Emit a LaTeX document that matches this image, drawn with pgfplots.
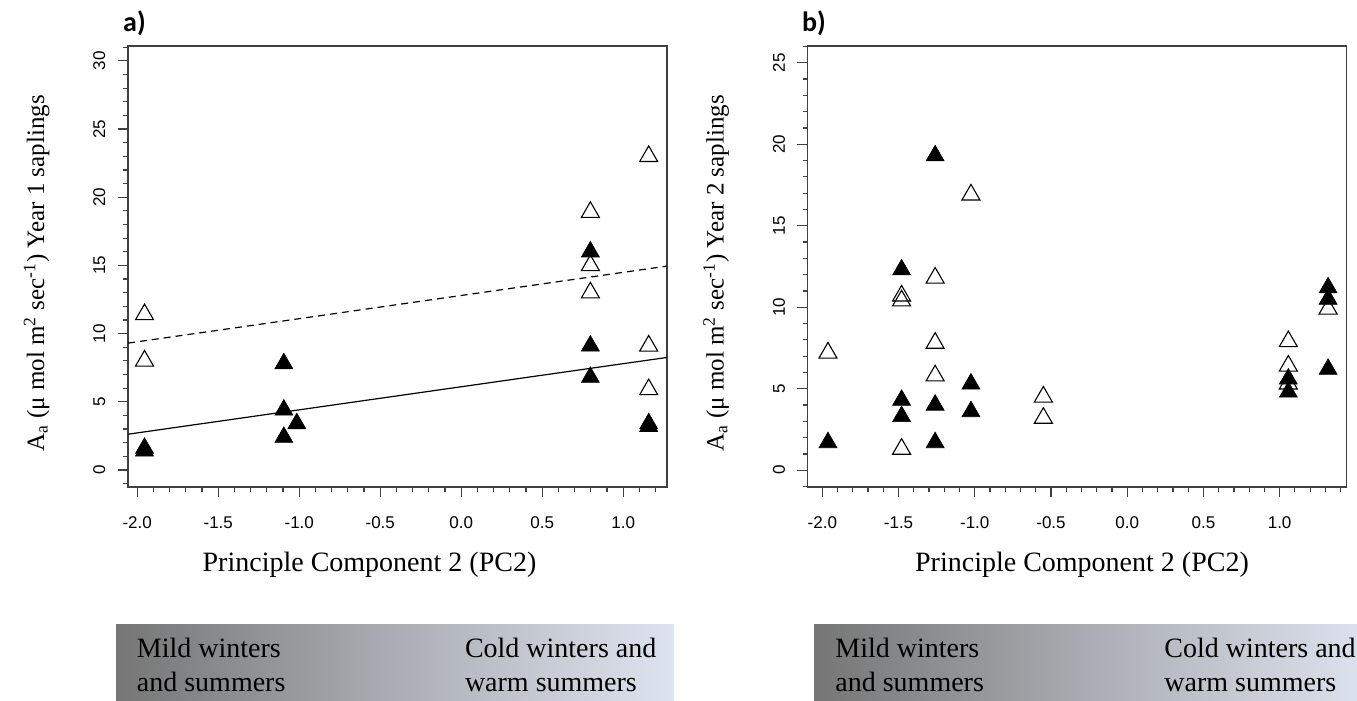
\documentclass[border=0pt]{standalone}
\usepackage{fontspec}
\setmainfont{Liberation Serif}
\newfontfamily\tickfont{Liberation Sans}
\newfontfamily\titlefont{Carlito}
\usepackage{pgfplots}
\usepackage{pgfplotstable}
\pgfplotsset{compat=1.18}

\definecolor{gA}{RGB}{118,118,118}
\definecolor{gB}{RGB}{180,180,180}
\definecolor{gC}{RGB}{222,228,240}

% Panel a
\pgfplotstableread{
x y
-1.955 11.4
-1.955 8.0
0.797 18.9
0.797 15.0
0.797 13.0
1.157 23.0
1.157 9.1
1.157 5.9
}\aopen
\pgfplotstableread{
x y
-1.955 1.6
-1.955 1.4
-1.095 7.8
-1.095 4.4
-1.095 2.4
-1.015 3.4
0.797 16.0
0.797 9.1
0.797 6.8
1.157 3.4
1.157 3.2
}\afilled
% Panel b
\pgfplotstableread{
x y
-1.963 7.2
-1.48 10.7
-1.48 10.4
-1.48 1.3
-1.26 11.8
-1.26 7.8
-1.26 5.8
-1.025 16.9
-0.55 4.5
-0.55 3.2
1.057 7.9
1.057 6.4
1.057 5.3
1.318 9.9
}\bopen
\pgfplotstableread{
x y
-1.963 1.7
-1.48 12.3
-1.48 4.3
-1.48 3.3
-1.26 19.3
-1.26 4.0
-1.26 1.7
-1.025 5.3
-1.025 3.6
1.057 5.6
1.057 4.8
1.318 11.2
1.318 10.5
1.318 6.2
}\bfilled

\pgfplotsset{
  myax/.style={
    scale only axis, width=269.5pt, height=220.5pt, anchor=south west,
    axis line style={black!75, line width=0.7pt},
    tick style={black!75, line width=0.6pt},
    tick align=outside, xtick pos=left, ytick pos=left,
    major tick length=5.2pt, minor tick length=2.6pt,
    xtick={-2,-1.5,-1,-0.5,0,0.5,1},
    xticklabels={-2.0,-1.5,-1.0,-0.5,0.0,0.5,1.0},
    ticklabel style={font=\tickfont\fontsize{8.5}{10}\selectfont},
    xticklabel style={anchor=north, inner sep=0pt},
    yticklabel style={rotate=90, anchor=south, inner sep=0pt},
    xticklabel shift=9.6pt, yticklabel shift=5.9pt,
    openm/.style={only marks, mark=triangle, mark size=5.2pt, mark options={black, line width=0.55pt}},
    fillm/.style={only marks, mark=triangle*, mark size=5.2pt, mark options={black, fill=black, line width=0.3pt}},
  }
}

\begin{document}
\begin{tikzpicture}
\useasboundingbox (0pt,0pt) rectangle (678.5pt,350.5pt);

% gradient bars
\shade[left color=gA, middle color=gB, right color=gC] (58pt,0pt) rectangle (337pt,38pt);
\shade[left color=gA, middle color=gB, right color=gC] (407pt,0pt) rectangle (686pt,38pt);

\begin{scope}[font=\fontsize{14}{16}\selectfont]
\node[anchor=base west, inner sep=0pt] at (68.25pt,21.5pt) {Mild winters};
\node[anchor=base west, inner sep=0pt] at (68.25pt,4.5pt) {and summers};
\node[anchor=base west, inner sep=0pt] at (232.3pt,21.5pt) {Cold winters and};
\node[anchor=base west, inner sep=0pt] at (232.3pt,4.5pt) {warm summers};
\node[anchor=base west, inner sep=0pt] at (417.5pt,21.5pt) {Mild winters};
\node[anchor=base west, inner sep=0pt] at (417.5pt,4.5pt) {and summers};
\node[anchor=base west, inner sep=0pt] at (582pt,21.5pt) {Cold winters and};
\node[anchor=base west, inner sep=0pt] at (582pt,4.5pt) {warm summers};
\end{scope}

% panel a
\begin{axis}[myax, at={(64pt,107pt)},
  xmin=-2.057, xmax=1.27, ymin=-1.25, ymax=31.09,
  minor xtick={-2.0,-1.9,-1.8,-1.7,-1.6,-1.5,-1.4,-1.3,-1.2,-1.1,-1.0,-0.9,-0.8,-0.7,-0.6,-0.5,-0.4,-0.3,-0.2,-0.1,0.0,0.1,0.2,0.3,0.4,0.5,0.6,0.7,0.8,0.9,1.0,1.1,1.2},
  ytick={0,5,10,15,20,25,30},
  yticklabels={0,5,10,15,20,25,30},
  minor ytick={-1,0,...,31},
]
\addplot[black, line width=0.6pt] coordinates {(-2.057,2.62) (1.27,8.25)};
\addplot[black, line width=0.6pt, dash pattern=on 3.5pt off 2.5pt] coordinates {(-2.057,9.3) (1.27,14.95)};
\addplot[openm] table {\aopen};
\addplot[fillm] table {\afilled};
\end{axis}

% panel b
\begin{axis}[myax, at={(403.85pt,107pt)},
  xmin=-2.096, xmax=1.44, ymin=-1.03, ymax=26.03,
  minor xtick={-2.0,-1.9,-1.8,-1.7,-1.6,-1.5,-1.4,-1.3,-1.2,-1.1,-1.0,-0.9,-0.8,-0.7,-0.6,-0.5,-0.4,-0.3,-0.2,-0.1,0.0,0.1,0.2,0.3,0.4,0.5,0.6,0.7,0.8,0.9,1.0,1.1,1.2,1.3,1.4},
  ytick={0,5,10,15,20,25},
  yticklabels={0,5,10,15,20,25},
  minor ytick={-1,0,...,26},
]
\addplot[openm] table {\bopen};
\addplot[fillm] table {\bfilled};
\end{axis}

% titles and labels
\node[font=\titlefont\bfseries\fontsize{14}{16}\selectfont] at (67.25pt,339pt) {a)};
\node[font=\titlefont\bfseries\fontsize{14}{16}\selectfont] at (407pt,339pt) {b)};

\node[anchor=base, font=\fontsize{14}{16}\selectfont] at (184.75pt,64.65pt) {Principle Component 2 (PC2)};
\node[anchor=base, font=\fontsize{14}{16}\selectfont] at (541pt,64.65pt) {Principle Component 2 (PC2)};

\node[rotate=90, anchor=base, font=\fontsize{12.5}{15}\selectfont] at (22pt,213.75pt) {A\textsubscript{a} (μ mol m\textsuperscript{2} sec\textsuperscript{-1}) Year 1 saplings};
\node[rotate=90, anchor=base, font=\fontsize{12.5}{15}\selectfont] at (361.85pt,213.75pt) {A\textsubscript{a} (μ mol m\textsuperscript{2} sec\textsuperscript{-1}) Year 2 saplings};
\end{tikzpicture}
\end{document}
